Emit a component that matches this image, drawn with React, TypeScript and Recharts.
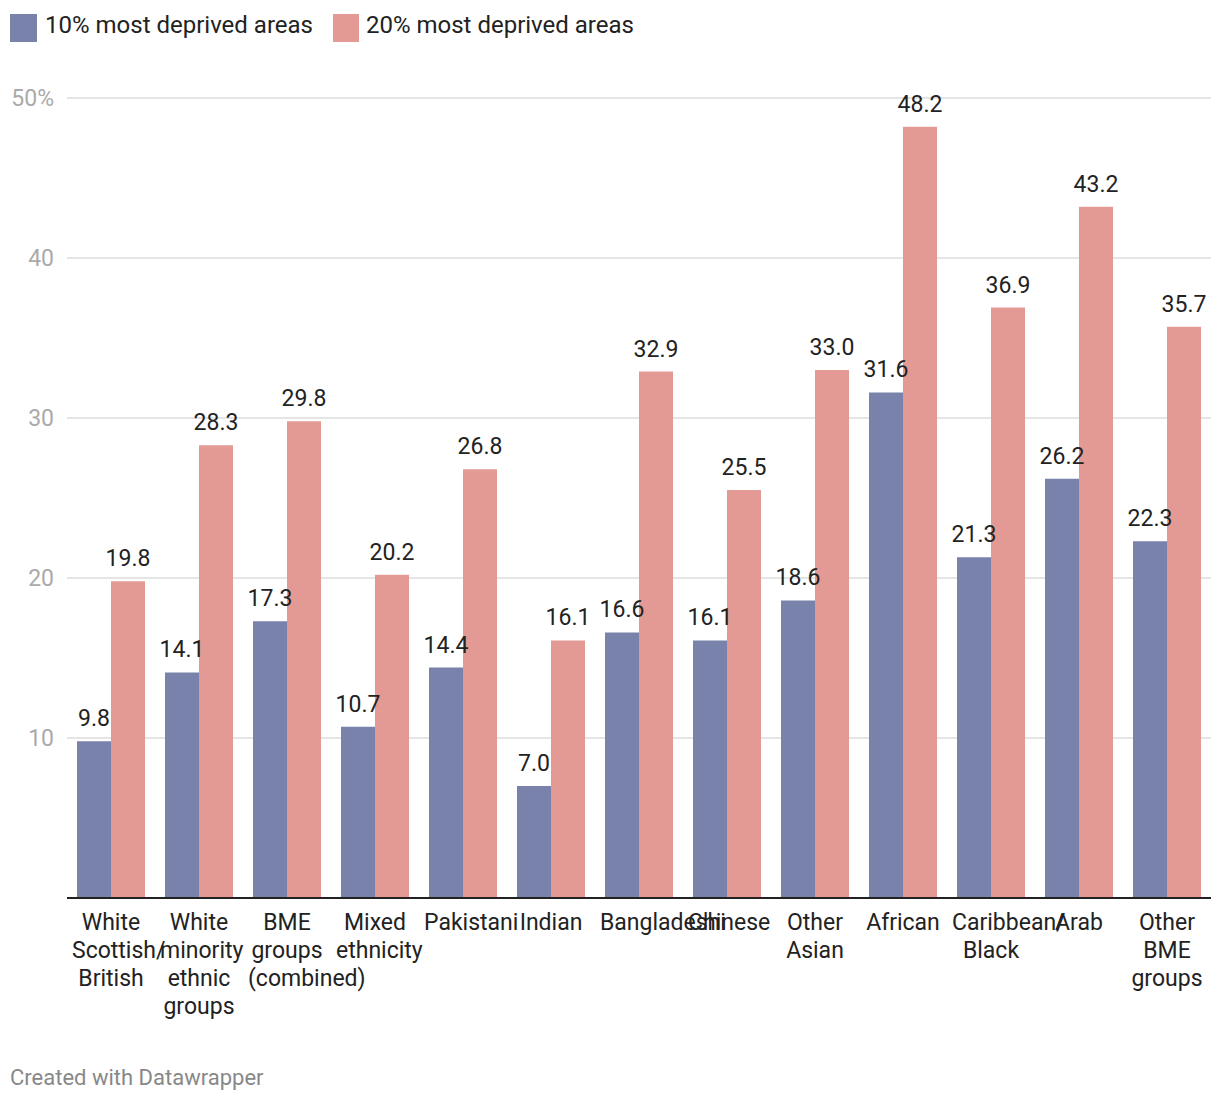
import { BarChart, Bar, XAxis, YAxis, CartesianGrid, LabelList } from "recharts";

const categories = [
  "White Scottish/British",
  "White minority ethnic groups",
  "BME groups (combined)",
  "Mixed ethnicity",
  "Pakistani",
  "Indian",
  "Bangladeshi",
  "Chinese",
  "Other Asian",
  "African",
  "Caribbean/Black",
  "Arab",
  "Other BME groups",
];

// how the axis labels wrap
const tickLines: Record<string, string[]> = {
  "White Scottish/British": ["White", "Scottish/", "British"],
  "White minority ethnic groups": ["White", "minority", "ethnic", "groups"],
  "BME groups (combined)": ["BME", "groups", "(combined)"],
  "Mixed ethnicity": ["Mixed", "ethnicity"],
  "Other Asian": ["Other", "Asian"],
  "Caribbean/Black": ["Caribbean/", "Black"],
  "Other BME groups": ["Other", "BME", "groups"],
};

const deprived10 = [9.8, 14.1, 17.3, 10.7, 14.4, 7.0, 16.6, 16.1, 18.6, 31.6, 21.3, 26.2, 22.3];
const deprived20 = [19.8, 28.3, 29.8, 20.2, 26.8, 16.1, 32.9, 25.5, 33.0, 48.2, 36.9, 43.2, 35.7];

const yTicks = [10, 20, 30, 40, 50];

const BLUE = "#7882ab";
const PINK = "#e39a95";
const LABEL_FONT = "23px Roboto";
const LABEL_BOX = 78;

const data = categories.map((name, i) => ({
  name,
  d10: deprived10[i],
  d20: deprived20[i],
}));

let ctx: CanvasRenderingContext2D | null = null;
function textWidth(s: string) {
  if (!ctx) ctx = document.createElement("canvas").getContext("2d");
  if (!ctx) return s.length * 11;
  ctx.font = LABEL_FONT;
  return ctx.measureText(s).width;
}

// labels wider than their box start at the box edge and run over to the right
function CategoryTick({ x, y, payload }: any) {
  const lines = tickLines[payload.value] || [payload.value];
  return (
    <g>
      {lines.map((l, i) => {
        const wide = textWidth(l) > LABEL_BOX;
        return (
          <text
            key={i}
            x={wide ? x - LABEL_BOX / 2 : x}
            y={y + 32 + i * 28}
            textAnchor={wide ? "start" : "middle"}
            fill="#222"
            fontSize={23}
            fontFamily="Roboto"
          >
            {l}
          </text>
        );
      })}
    </g>
  );
}

export default function App() {
  const fmt = (v: any) => Number(v).toFixed(1);
  return (
    <div
      style={{
        position: "absolute",
        left: 0,
        top: 0,
        width: 1220,
        height: 1104,
        background: "#fff",
        fontFamily: "Roboto",
        overflow: "hidden",
      }}
    >
      <div style={{ position: "absolute", left: 10, top: 14, display: "flex", alignItems: "flex-start" }}>
        <div style={{ width: 27, height: 28, background: BLUE }} />
        <div style={{ marginLeft: 8, marginTop: -3, fontSize: 24, lineHeight: "28px", color: "#222" }}>
          10% most deprived areas
        </div>
        <div style={{ width: 26, height: 28, background: PINK, marginLeft: 20 }} />
        <div style={{ marginLeft: 7, marginTop: -3, fontSize: 24, lineHeight: "28px", color: "#222" }}>
          20% most deprived areas
        </div>
      </div>

      <div style={{ position: "absolute", left: 0, top: 0 }}>
        <BarChart
          width={1220}
          height={1040}
          data={data}
          margin={{ top: 98, right: 9, left: 0, bottom: 0 }}
          barCategoryGap={10}
          barGap={0}
        >
          <CartesianGrid vertical={false} stroke="#e5e5e5" strokeWidth={2} />
          <YAxis
            width={67}
            domain={[0, 50]}
            ticks={yTicks}
            axisLine={false}
            tickLine={false}
            tickSize={0}
            tickMargin={13}
            tick={{ fill: "#aaa", fontSize: 23, fontFamily: "Roboto" }}
            tickFormatter={(v) => (v === 50 ? "50%" : String(v))}
          />
          <XAxis
            dataKey="name"
            height={142}
            interval={0}
            tickLine={false}
            tickSize={0}
            tickMargin={0}
            axisLine={{ stroke: "#222", strokeWidth: 2 }}
            tick={<CategoryTick />}
          />
          <Bar dataKey="d10" fill={BLUE} isAnimationActive={false}>
            <LabelList dataKey="d10" position="top" offset={15} fill="#222" fontSize={23} fontFamily="Roboto" formatter={fmt} />
          </Bar>
          <Bar dataKey="d20" fill={PINK} isAnimationActive={false}>
            <LabelList dataKey="d20" position="top" offset={15} fill="#222" fontSize={23} fontFamily="Roboto" formatter={fmt} />
          </Bar>
        </BarChart>
      </div>

      <div
        style={{
          position: "absolute",
          left: 10,
          top: 1067,
          fontSize: 22,
          lineHeight: "22px",
          color: "#888",
        }}
      >
        Created with Datawrapper
      </div>
    </div>
  );
}
